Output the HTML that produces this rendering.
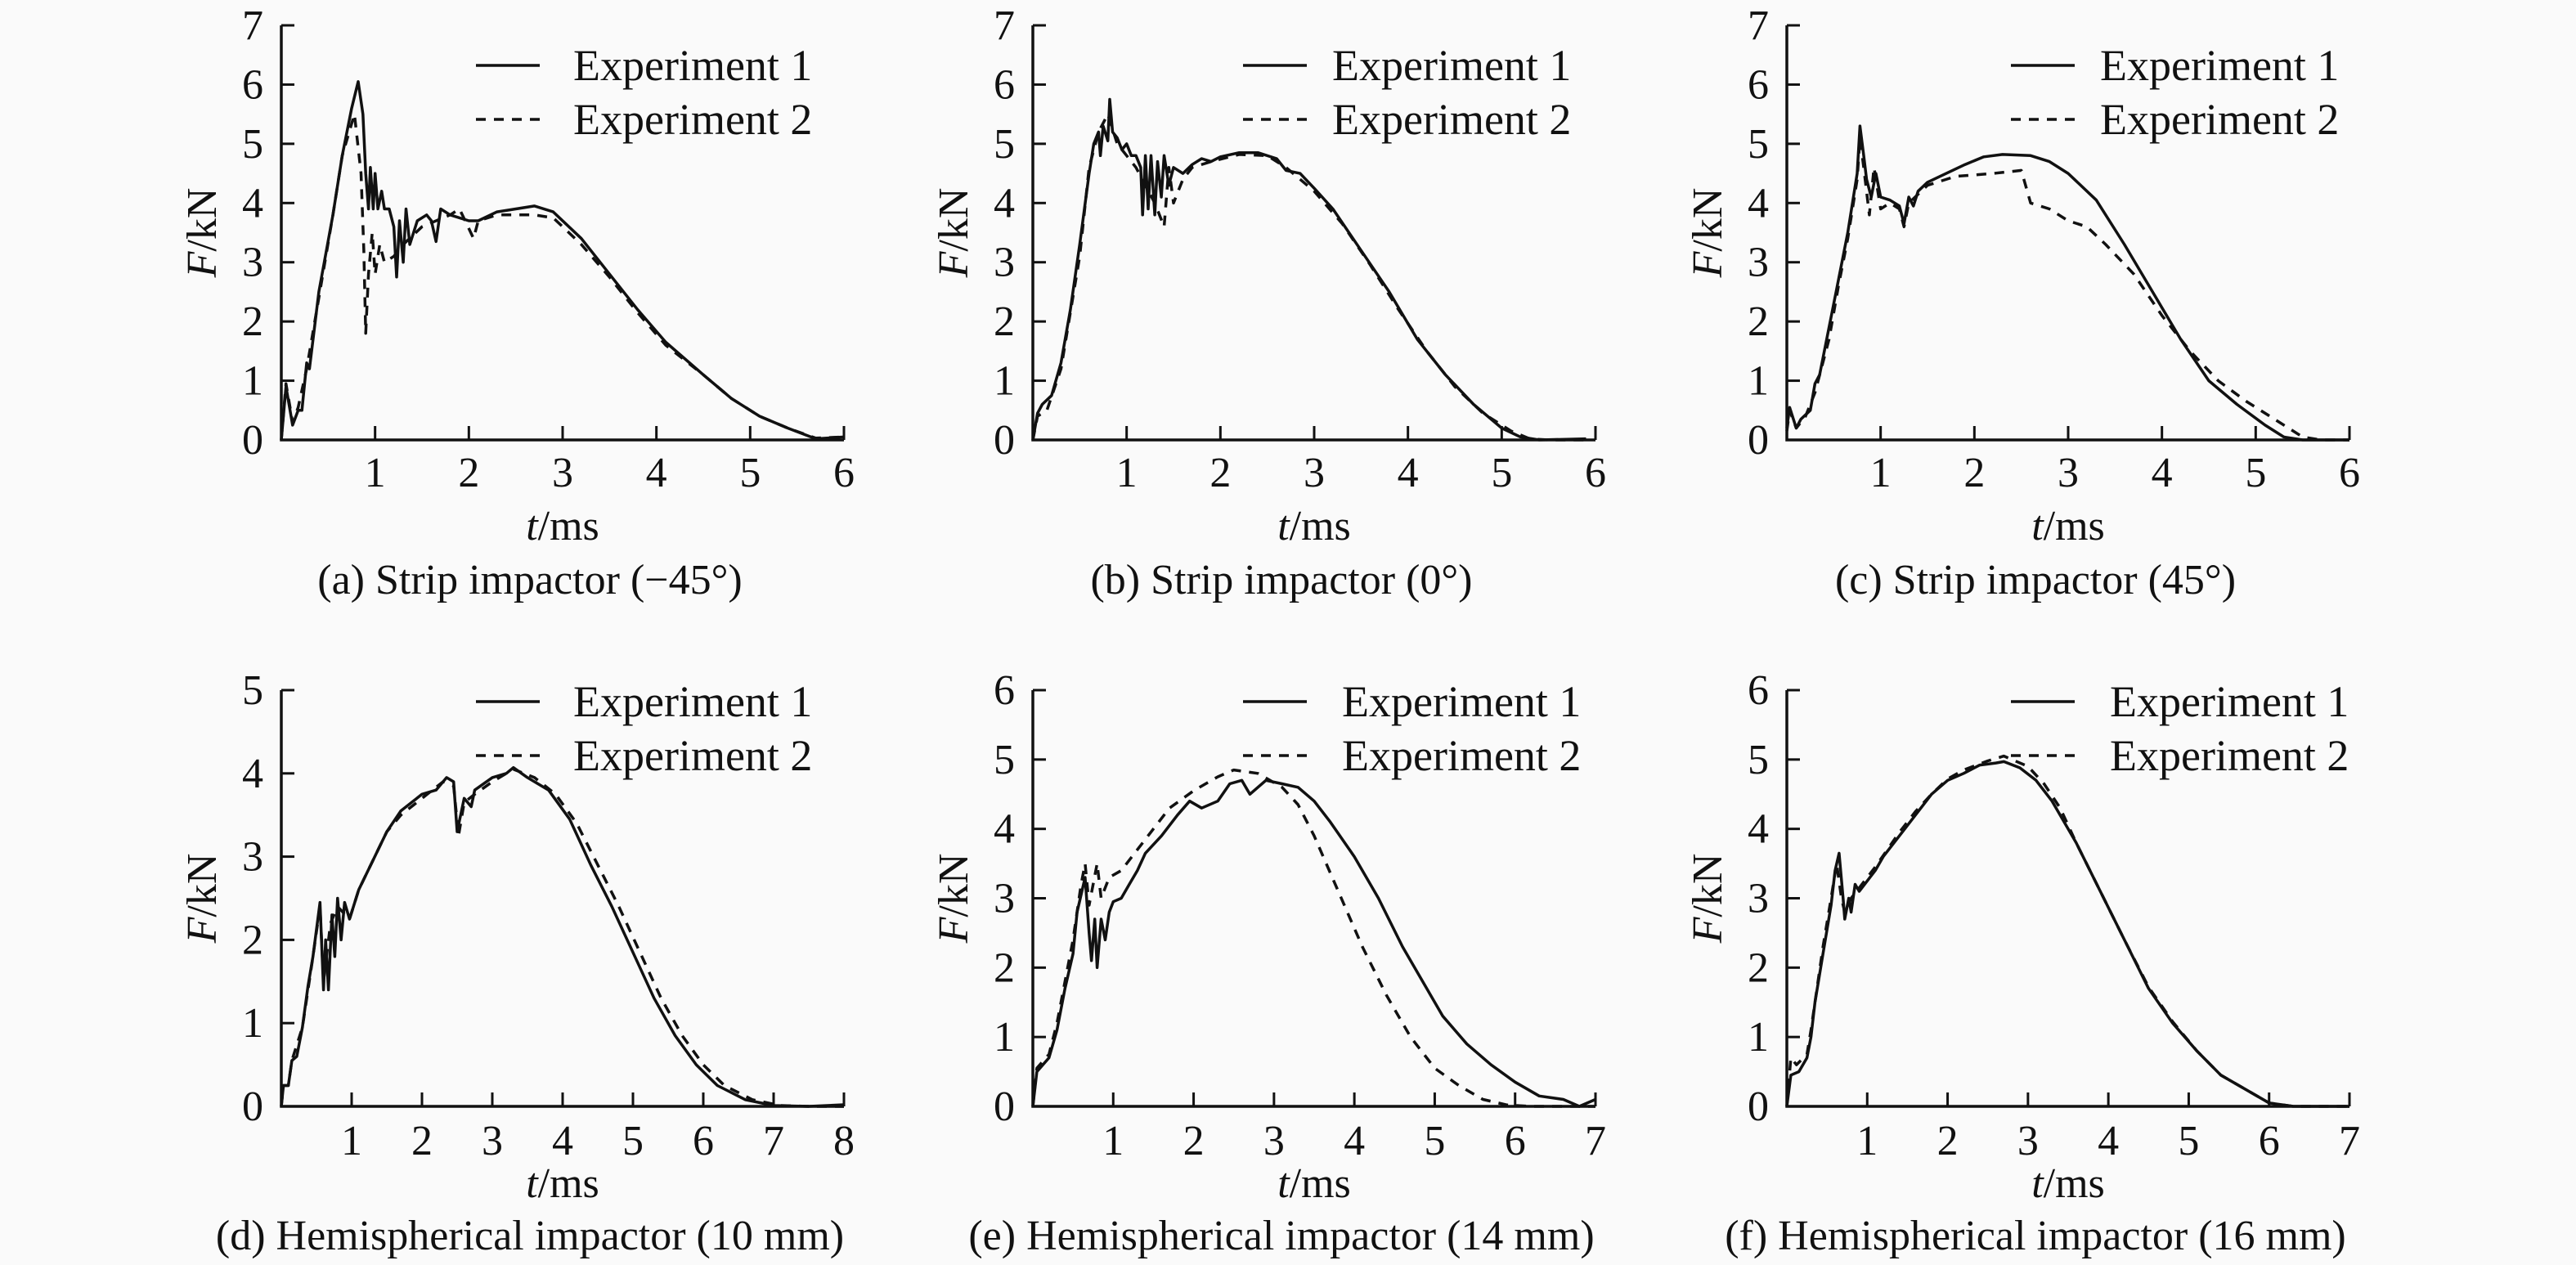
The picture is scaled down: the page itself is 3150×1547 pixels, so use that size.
<!DOCTYPE html>
<html><head><meta charset="utf-8"><style>
html,body{margin:0;padding:0;background:#fafafa;}
svg{display:block;font-family:"Liberation Serif",serif;}
</style></head><body>
<svg id="fig" width="3150" height="1547" viewBox="0 0 3150 1547" xmlns="http://www.w3.org/2000/svg"></svg>
<script>
const aExp1=[[0,0],[0.05,0.9],[0.12,0.25],[0.18,0.5],[0.22,0.5],[0.27,1.3],[0.3,1.2],[0.4,2.5],[0.55,3.8],[0.65,4.8],[0.75,5.6],[0.82,6.05],[0.87,5.5],[0.9,4.5],[0.93,3.9],[0.95,4.6],[0.98,3.9],[1.0,4.5],[1.03,3.9],[1.07,4.2],[1.1,3.9],[1.15,3.9],[1.2,3.6],[1.23,2.75],[1.26,3.7],[1.3,3.0],[1.33,3.9],[1.37,3.3],[1.45,3.7],[1.55,3.8],[1.6,3.7],[1.65,3.35],[1.7,3.9],[1.8,3.8],[2.0,3.7],[2.1,3.7],[2.3,3.85],[2.5,3.9],[2.7,3.95],[2.9,3.85],[3.2,3.4],[3.5,2.8],[3.8,2.2],[4.1,1.65],[4.5,1.1],[4.8,0.7],[5.1,0.4],[5.4,0.2],[5.7,0.02],[6.0,0.05]];
const aExp2=[[0,0],[0.05,0.95],[0.12,0.3],[0.18,0.55],[0.27,1.2],[0.4,2.4],[0.55,3.8],[0.65,4.8],[0.78,5.5],[0.85,4.5],[0.88,3.2],[0.9,1.8],[0.93,2.8],[0.97,3.5],[1.0,2.8],[1.05,3.3],[1.1,3.0],[1.2,3.1],[1.3,3.3],[1.5,3.6],[1.8,3.8],[1.9,3.9],[2.05,3.4],[2.1,3.7],[2.3,3.8],[2.7,3.8],[2.9,3.75],[3.2,3.3],[3.5,2.75],[3.8,2.15],[4.1,1.6],[4.5,1.1],[4.8,0.7],[5.1,0.4],[5.4,0.2],[5.7,0.03],[6.0,0.05]];
const bExp1=[[0,0],[0.05,0.45],[0.1,0.6],[0.2,0.75],[0.3,1.3],[0.4,2.2],[0.5,3.3],[0.6,4.5],[0.65,5.0],[0.7,5.2],[0.72,4.8],[0.75,5.3],[0.8,5.05],[0.82,5.75],[0.85,5.2],[0.9,5.1],[0.95,4.9],[1.0,5.0],[1.05,4.8],[1.1,4.8],[1.15,4.6],[1.17,3.8],[1.2,4.8],[1.23,3.9],[1.26,4.8],[1.3,3.8],[1.33,4.7],[1.37,4.1],[1.4,4.8],[1.45,4.3],[1.5,4.6],[1.6,4.5],[1.7,4.65],[1.8,4.75],[1.9,4.7],[2.0,4.78],[2.2,4.85],[2.4,4.85],[2.6,4.75],[2.7,4.55],[2.85,4.5],[3.0,4.25],[3.2,3.9],[3.5,3.2],[3.8,2.5],[4.1,1.7],[4.4,1.1],[4.7,0.6],[5.0,0.2],[5.2,0.05],[5.4,0],[5.9,0.02]];
const bExp2=[[0,0],[0.05,0.4],[0.15,0.5],[0.3,1.2],[0.5,3.1],[0.6,4.6],[0.7,5.2],[0.8,5.5],[0.9,5.0],[1.0,4.8],[1.1,4.6],[1.2,4.3],[1.3,4.0],[1.4,3.6],[1.45,4.6],[1.5,4.0],[1.6,4.4],[1.7,4.6],[1.9,4.7],[2.2,4.82],[2.5,4.8],[2.7,4.6],[3.0,4.2],[3.3,3.65],[3.6,2.95],[3.9,2.2],[4.2,1.5],[4.5,0.9],[4.8,0.45],[5.1,0.15],[5.3,0.02],[5.5,0],[5.9,0]];
const cExp1=[[0,0.2],[0.03,0.55],[0.1,0.2],[0.15,0.35],[0.25,0.5],[0.3,0.95],[0.35,1.1],[0.45,1.9],[0.55,2.7],[0.65,3.5],[0.75,4.5],[0.78,5.3],[0.82,4.8],[0.85,4.4],[0.9,4.1],[0.95,4.5],[1.0,4.1],[1.1,4.05],[1.2,3.95],[1.25,3.65],[1.3,4.1],[1.35,3.95],[1.4,4.2],[1.5,4.35],[1.7,4.5],[1.9,4.65],[2.1,4.78],[2.3,4.82],[2.6,4.8],[2.8,4.7],[3.0,4.5],[3.3,4.05],[3.6,3.3],[3.9,2.5],[4.2,1.7],[4.5,1.0],[4.8,0.6],[5.1,0.25],[5.3,0.05],[5.5,0],[6,0]];
const cExp2=[[0,0.15],[0.03,0.5],[0.1,0.2],[0.2,0.4],[0.3,0.8],[0.45,1.7],[0.55,2.6],[0.65,3.4],[0.75,4.4],[0.78,5.1],[0.82,4.6],[0.88,3.8],[0.93,4.6],[1.0,3.9],[1.1,4.0],[1.2,3.9],[1.25,3.6],[1.3,4.0],[1.5,4.3],[1.8,4.45],[2.2,4.5],[2.5,4.55],[2.6,4.0],[2.8,3.9],[3.0,3.7],[3.2,3.6],[3.4,3.3],[3.7,2.8],[4.0,2.1],[4.3,1.5],[4.6,1.0],[4.9,0.65],[5.2,0.35],[5.5,0.05],[5.7,0],[6,0]];
const dExp1=[[0,0],[0.03,0.25],[0.1,0.25],[0.15,0.55],[0.22,0.6],[0.3,0.95],[0.38,1.45],[0.45,1.8],[0.55,2.45],[0.6,1.4],[0.63,2.0],[0.67,1.4],[0.72,2.3],[0.76,1.8],[0.8,2.5],[0.85,2.0],[0.9,2.45],[0.97,2.25],[1.1,2.6],[1.3,2.95],[1.5,3.3],[1.7,3.55],[2.0,3.75],[2.2,3.8],[2.35,3.95],[2.45,3.9],[2.5,3.3],[2.6,3.7],[2.7,3.6],[2.75,3.8],[3.0,3.95],[3.2,4.0],[3.3,4.07],[3.5,3.95],[3.8,3.8],[4.1,3.45],[4.4,2.9],[4.7,2.4],[5.0,1.85],[5.3,1.3],[5.6,0.85],[5.9,0.5],[6.2,0.25],[6.6,0.08],[7.0,0.01],[7.5,0],[8,0.02]];
const dExp2=[[0,0],[0.03,0.25],[0.1,0.25],[0.15,0.55],[0.3,0.95],[0.45,1.8],[0.55,2.4],[0.6,1.5],[0.7,2.2],[0.8,2.4],[0.97,2.25],[1.1,2.6],[1.3,2.95],[1.5,3.3],[1.7,3.5],[2.0,3.7],[2.3,3.9],[2.45,3.85],[2.52,3.25],[2.6,3.65],[2.75,3.75],[3.0,3.9],[3.3,4.05],[3.6,3.95],[3.9,3.75],[4.2,3.4],[4.5,2.9],[4.8,2.4],[5.1,1.85],[5.4,1.3],[5.7,0.85],[6.0,0.5],[6.3,0.25],[6.7,0.08],[7.1,0.01],[7.5,0],[8,0]];
const eExp1=[[0,0],[0.05,0.5],[0.2,0.7],[0.3,1.1],[0.4,1.7],[0.5,2.2],[0.55,2.8],[0.65,3.3],[0.7,2.5],[0.73,2.1],[0.77,2.7],[0.8,2.0],[0.85,2.7],[0.9,2.4],[0.95,2.8],[1.0,2.95],[1.1,3.0],[1.2,3.2],[1.3,3.4],[1.4,3.65],[1.6,3.9],[1.8,4.2],[1.95,4.4],[2.1,4.3],[2.3,4.4],[2.45,4.65],[2.6,4.7],[2.7,4.5],[2.8,4.6],[2.9,4.7],[3.1,4.65],[3.3,4.6],[3.5,4.4],[3.7,4.1],[4.0,3.6],[4.3,3.0],[4.6,2.3],[4.9,1.7],[5.1,1.3],[5.4,0.9],[5.7,0.6],[6.0,0.35],[6.3,0.15],[6.6,0.1],[6.8,0],[7.0,0.1]];
const eExp2=[[0,0],[0.05,0.55],[0.2,0.75],[0.3,1.2],[0.5,2.4],[0.6,3.2],[0.65,3.5],[0.7,2.9],[0.8,3.5],[0.85,3.0],[0.95,3.3],[1.1,3.4],[1.3,3.7],[1.5,4.0],[1.7,4.3],[2.0,4.55],[2.3,4.75],[2.5,4.85],[2.8,4.8],[3.1,4.6],[3.3,4.35],[3.5,3.9],[3.8,3.1],[4.1,2.3],[4.4,1.6],[4.7,1.0],[5.0,0.55],[5.3,0.3],[5.6,0.1],[5.9,0.02],[6.2,0],[7,0]];
const fExp1=[[0,0],[0.05,0.45],[0.15,0.5],[0.25,0.7],[0.3,1.0],[0.35,1.5],[0.45,2.2],[0.55,2.9],[0.6,3.4],[0.65,3.65],[0.7,3.0],[0.72,2.7],[0.77,3.0],[0.8,2.8],[0.85,3.2],[0.9,3.1],[1.0,3.25],[1.1,3.4],[1.2,3.6],[1.4,3.9],[1.6,4.2],[1.8,4.5],[2.0,4.7],[2.2,4.8],[2.4,4.92],[2.6,4.95],[2.7,4.97],[2.9,4.88],[3.1,4.7],[3.3,4.4],[3.6,3.8],[3.9,3.1],[4.2,2.4],[4.5,1.7],[4.8,1.2],[5.1,0.8],[5.4,0.45],[5.7,0.25],[6.0,0.05],[6.3,0],[7,0]];
const fExp2=[[0,0],[0.05,0.7],[0.12,0.6],[0.25,0.75],[0.3,1.1],[0.45,2.3],[0.55,3.0],[0.62,3.5],[0.68,3.0],[0.72,2.8],[0.8,3.0],[0.9,3.15],[1.1,3.45],[1.4,3.95],[1.6,4.25],[1.8,4.5],[2.0,4.72],[2.2,4.85],[2.5,4.98],[2.7,5.05],[3.0,4.9],[3.2,4.65],[3.4,4.3],[3.6,3.8],[3.9,3.1],[4.2,2.4],[4.5,1.72],[4.8,1.22],[5.1,0.8],[5.4,0.45],[5.7,0.25],[6.0,0.05],[6.3,0],[7,0]];
const captions=["(a) Strip impactor (\u221245\u00b0)","(b) Strip impactor (0\u00b0)","(c) Strip impactor (45\u00b0)","(d) Hemispherical impactor (10 mm)","(e) Hemispherical impactor (14 mm)","(f) Hemispherical impactor (16 mm)"];
const xMaxes=[6,6,6,8,7,7];
const yMaxes=[7,7,7,5,6,6];
const series=[[aExp1,aExp2],[bExp1,bExp2],[cExp1,cExp2],[dExp1,dExp2],[eExp1,eExp2],[fExp1,fExp2]];
const legendLabels=["Experiment 1","Experiment 2"];

const layout=[
 {x0:344,x1:1032,y0:538,y1:31,lg:582,lt:701,ly:80,cap:709,tl:643,xl:577},
 {x0:1263,x1:1951,y0:538,y1:31,lg:1520,lt:1629,ly:80,cap:709,tl:643,xl:577},
 {x0:2185,x1:2873,y0:538,y1:31,lg:2459,lt:2568,ly:80,cap:709,tl:643,xl:577},
 {x0:344,x1:1032,y0:1353,y1:844,lg:582,lt:701,ly:858,cap:1511,tl:1447,xl:1394},
 {x0:1263,x1:1951,y0:1353,y1:844,lg:1520,lt:1641,ly:858,cap:1511,tl:1447,xl:1394},
 {x0:2185,x1:2873,y0:1353,y1:844,lg:2459,lt:2580,ly:858,cap:1511,tl:1447,xl:1394}
];
const NS="http://www.w3.org/2000/svg";
const svg=document.getElementById('fig');
function mk(tag,attrs,parent){const e=document.createElementNS(NS,tag);for(const k in attrs)e.setAttribute(k,attrs[k]);parent.appendChild(e);return e;}
const panelNames=["a","b","c","d","e","f"];
layout.forEach((L,i)=>{
 const g=mk('g',{},svg);
 
 
 const xs=t=>L.x0+(L.x1-L.x0)*t/xMaxes[i];
 const ys=v=>L.y0-(L.y0-L.y1)*v/yMaxes[i];
 const ax=mk('path',{d:`M${L.x0},${L.y1} L${L.x0},${L.y0} L${L.x1},${L.y0}`,fill:'none',stroke:'#111','stroke-width':3.5},g);
 
 
 for(let v=0;v<=yMaxes[i];v++){
  const y=ys(v);
  if(v>0){const tk=mk('line',{x1:L.x0,x2:L.x0+16,y1:y,y2:y,stroke:'#111','stroke-width':3},g);
   
   }
  const tx=mk('text',{x:L.x0-22,y:y+17,'font-size':52,'text-anchor':'end',fill:'#111'},g);
  tx.textContent=v;
  
  
 }
 for(let t=1;t<=xMaxes[i];t++){
  const x=xs(t);
  const tk=mk('line',{x1:x,x2:x,y1:L.y0,y2:L.y0-17,stroke:'#111','stroke-width':3},g);
  
  
  const tx=mk('text',{x:x,y:L.xl+18,'font-size':52,'text-anchor':'middle',fill:'#111'},g);
  tx.textContent=t;
  
  
 }
 const xt=mk('text',{x:(L.x0+L.x1)/2,y:L.tl+17,'font-size':52,'text-anchor':'middle',fill:'#111'},g);
 xt.innerHTML='<tspan font-style="italic">t</tspan>/ms';
 
 
 const cy=(L.y0+L.y1)/2;
 const yt=mk('text',{x:0,y:0,'font-size':52,'text-anchor':'middle',fill:'#111',transform:`translate(${L.x0-80},${cy}) rotate(-90)`},g);
 yt.innerHTML='<tspan font-style="italic">F</tspan>/kN';
 
 
 series[i].forEach((s,k)=>{
  const d=s.map((p,j)=>(j?'L':'M')+xs(p[0]).toFixed(1)+','+ys(p[1]).toFixed(1)).join(' ');
  const attrs={d:d,fill:'none',stroke:'#111','stroke-width':3.5,'stroke-linejoin':'round'};
  if(k===1)attrs['stroke-dasharray']='12 10';
  const pth=mk('path',attrs,g);
  
  
 });
 legendLabels.forEach((lab,k)=>{
  const y=L.ly+k*66;
  const la={x1:L.lg,x2:L.lg+78,y1:y,y2:y,stroke:'#111','stroke-width':3.5};
  if(k===1)la['stroke-dasharray']='12 10';
  const ln=mk('line',la,g);
  
  
  const tx=mk('text',{x:L.lt,y:y+18,'font-size':54,fill:'#111'},g);
  tx.textContent=lab;
  
  
 });
 const cp=mk('text',{x:(L.x0+L.x1)/2-40,y:L.cap+17,'font-size':52,'text-anchor':'middle',fill:'#111'},g);
 cp.textContent=captions[i];
 
 
});
</script>
</body></html>
